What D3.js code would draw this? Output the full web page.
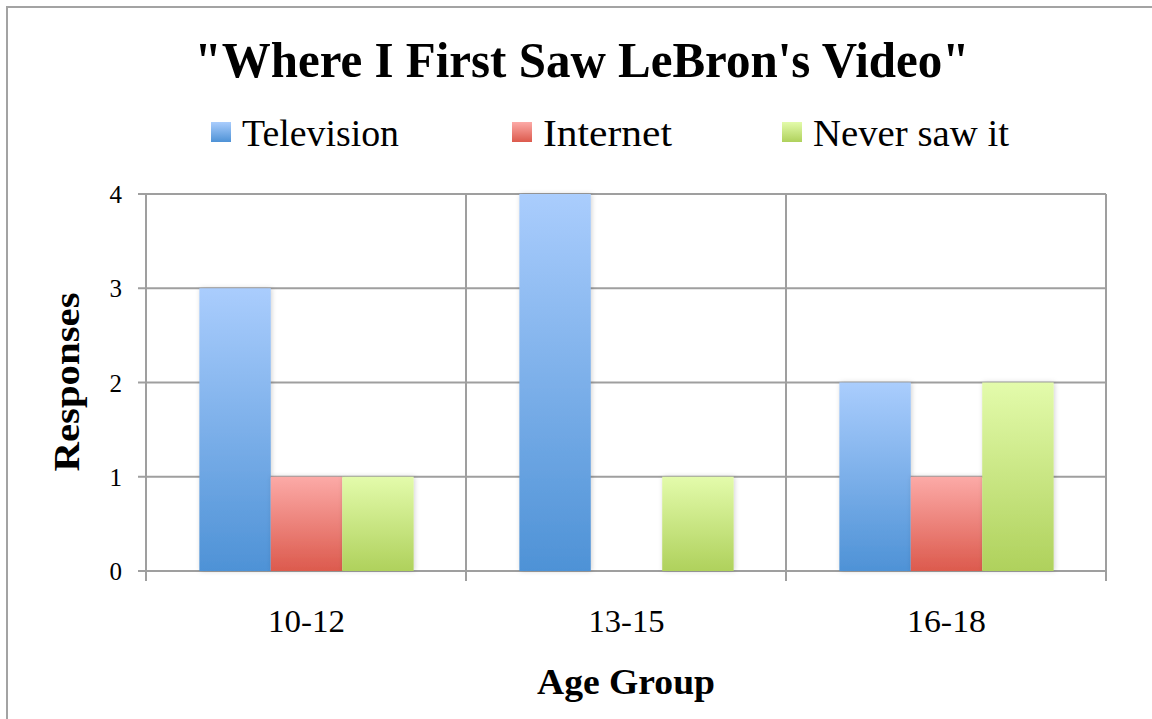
<!DOCTYPE html>
<html>
<head>
<meta charset="utf-8">
<script src="https://cdn.jsdelivr.net/npm/d3@7"></script>
<style>
  html, body { margin: 0; padding: 0; background: #fff; }
  svg { display: block; }
  text { font-family: "Liberation Serif", "DejaVu Serif", serif; fill: #000; }
</style>
</head>
<body>
<svg id="chart" width="1152" height="719"></svg>
<script>
// Survey answers by age group
const categories = ["10-12", "13-15", "16-18"];
const seriesNames = ["Television", "Internet", "Never saw it"];
const television = [3, 4, 2];
const internet = [1, 0, 1];
const neverSawIt = [1, 1, 2];
const yTicks = [0, 1, 2, 3, 4];

const seriesValues = [television, internet, neverSawIt];
const gradients = [
  ["#aacdfd", "#4e92d6"],
  ["#fcaaa7", "#dc5a4d"],
  ["#e3fbab", "#afd15c"]
];

const svg = d3.select("#chart");
const defs = svg.append("defs");

gradients.forEach((g, i) => {
  const lg = defs.append("linearGradient")
    .attr("id", "grad" + i)
    .attr("x1", 0).attr("y1", 0).attr("x2", 0).attr("y2", 1);
  lg.append("stop").attr("offset", "0%").attr("stop-color", g[0]);
  lg.append("stop").attr("offset", "100%").attr("stop-color", g[1]);
});

const shadow = defs.append("filter").attr("id", "barShadow")
  .attr("x", "-20%").attr("y", "-5%").attr("width", "140%").attr("height", "110%");
shadow.append("feDropShadow")
  .attr("dx", 1).attr("dy", 0).attr("stdDeviation", 2.5)
  .attr("flood-color", "#000").attr("flood-opacity", 0.18);

// chart frame
svg.append("rect")
  .attr("x", 7).attr("y", 7).attr("width", 1170).attr("height", 740)
  .attr("fill", "none").attr("stroke", "#a3a3a3").attr("stroke-width", 2);

const plotLeft = 146, plotRight = 1106, plotTop = 194, plotBottom = 571;
const gridColor = "#9f9f9f";

const x0 = d3.scaleBand().domain(categories).range([plotLeft, plotRight]).paddingInner(0).paddingOuter(0);
const x1 = d3.scaleBand().domain(seriesNames).range([0, x0.bandwidth()]).paddingInner(0).paddingOuter(0.74);
const y = d3.scaleLinear().domain([0, 4]).range([plotBottom, plotTop]);

// horizontal gridlines with outer tick marks
svg.append("g").selectAll("line").data(yTicks).join("line")
  .attr("x1", plotLeft - 8).attr("x2", plotRight)
  .attr("y1", d => y(d)).attr("y2", d => y(d))
  .attr("stroke", gridColor).attr("stroke-width", 2);

// vertical gridlines at category boundaries
const bounds = categories.map(c => x0(c)).concat([x0(categories[categories.length - 1]) + x0.bandwidth()]);
svg.append("g").selectAll("line").data(bounds).join("line")
  .attr("x1", d => d).attr("x2", d => d)
  .attr("y1", plotTop).attr("y2", plotBottom + 10)
  .attr("stroke", gridColor).attr("stroke-width", 2);

// y tick labels
const yAxis = svg.append("g")
  .attr("transform", `translate(${plotLeft - 24},0)`)
  .call(d3.axisLeft(y).tickValues(yTicks).tickSize(0).tickFormat(d3.format("d")));
yAxis.select(".domain").remove();
yAxis.selectAll("text")
  .attr("x", 0).attr("dy", "0.34em")
  .style("font-family", "Liberation Serif, serif").style("font-size", "25px")
  .attr("fill", "#000");

// bars
const groups = svg.append("g").selectAll("g").data(categories).join("g")
  .attr("transform", c => `translate(${x0(c)},0)`);
groups.selectAll("rect")
  .data((c, ci) => seriesNames.map((s, si) => ({ s, si, v: seriesValues[si][ci] })).filter(d => d.v > 0))
  .join("rect")
  .attr("x", d => x1(d.s) + 0.5)
  .attr("width", x1.bandwidth())
  .attr("y", d => y(d.v))
  .attr("height", d => y(0) - y(d.v))
  .attr("fill", d => `url(#grad${d.si})`)
  .attr("filter", "url(#barShadow)");

// category labels
const catWidths = [77, 76, 79];
svg.append("g").selectAll("text").data(categories).join("text")
  .attr("x", c => x0(c) + x0.bandwidth() / 2 + 0.5)
  .attr("y", 632)
  .attr("text-anchor", "middle")
  .attr("textLength", (c, i) => catWidths[i])
  .attr("lengthAdjust", "spacingAndGlyphs")
  .style("font-size", "31px")
  .text(c => c);

// axis titles
svg.append("text")
  .attr("x", 626).attr("y", 694)
  .attr("text-anchor", "middle")
  .attr("textLength", 178).attr("lengthAdjust", "spacingAndGlyphs")
  .style("font-size", "35px").style("font-weight", "bold")
  .text("Age Group");

svg.append("text")
  .attr("transform", "translate(79,382) rotate(-90)")
  .attr("text-anchor", "middle")
  .attr("textLength", 179).attr("lengthAdjust", "spacingAndGlyphs")
  .style("font-size", "35px").style("font-weight", "bold")
  .text("Responses");

// title
svg.append("text")
  .attr("x", 582).attr("y", 77)
  .attr("text-anchor", "middle")
  .attr("textLength", 775).attr("lengthAdjust", "spacingAndGlyphs")
  .style("font-size", "50px").style("font-weight", "bold")
  .text("\"Where I First Saw LeBron's Video\"");

// legend
const legendX = [211, 512, 782];
const legendW = [157, 129, 196];
const legend = svg.append("g").selectAll("g").data(seriesNames).join("g")
  .attr("transform", (s, i) => `translate(${legendX[i]},0)`);
legend.append("rect")
  .attr("x", 0).attr("y", 122).attr("width", 20).attr("height", 20)
  .attr("fill", (s, i) => `url(#grad${i})`);
legend.append("text")
  .attr("x", 31).attr("y", 146)
  .attr("textLength", (s, i) => legendW[i]).attr("lengthAdjust", "spacingAndGlyphs")
  .style("font-size", "37px")
  .text(s => s);
</script>
</body>
</html>
